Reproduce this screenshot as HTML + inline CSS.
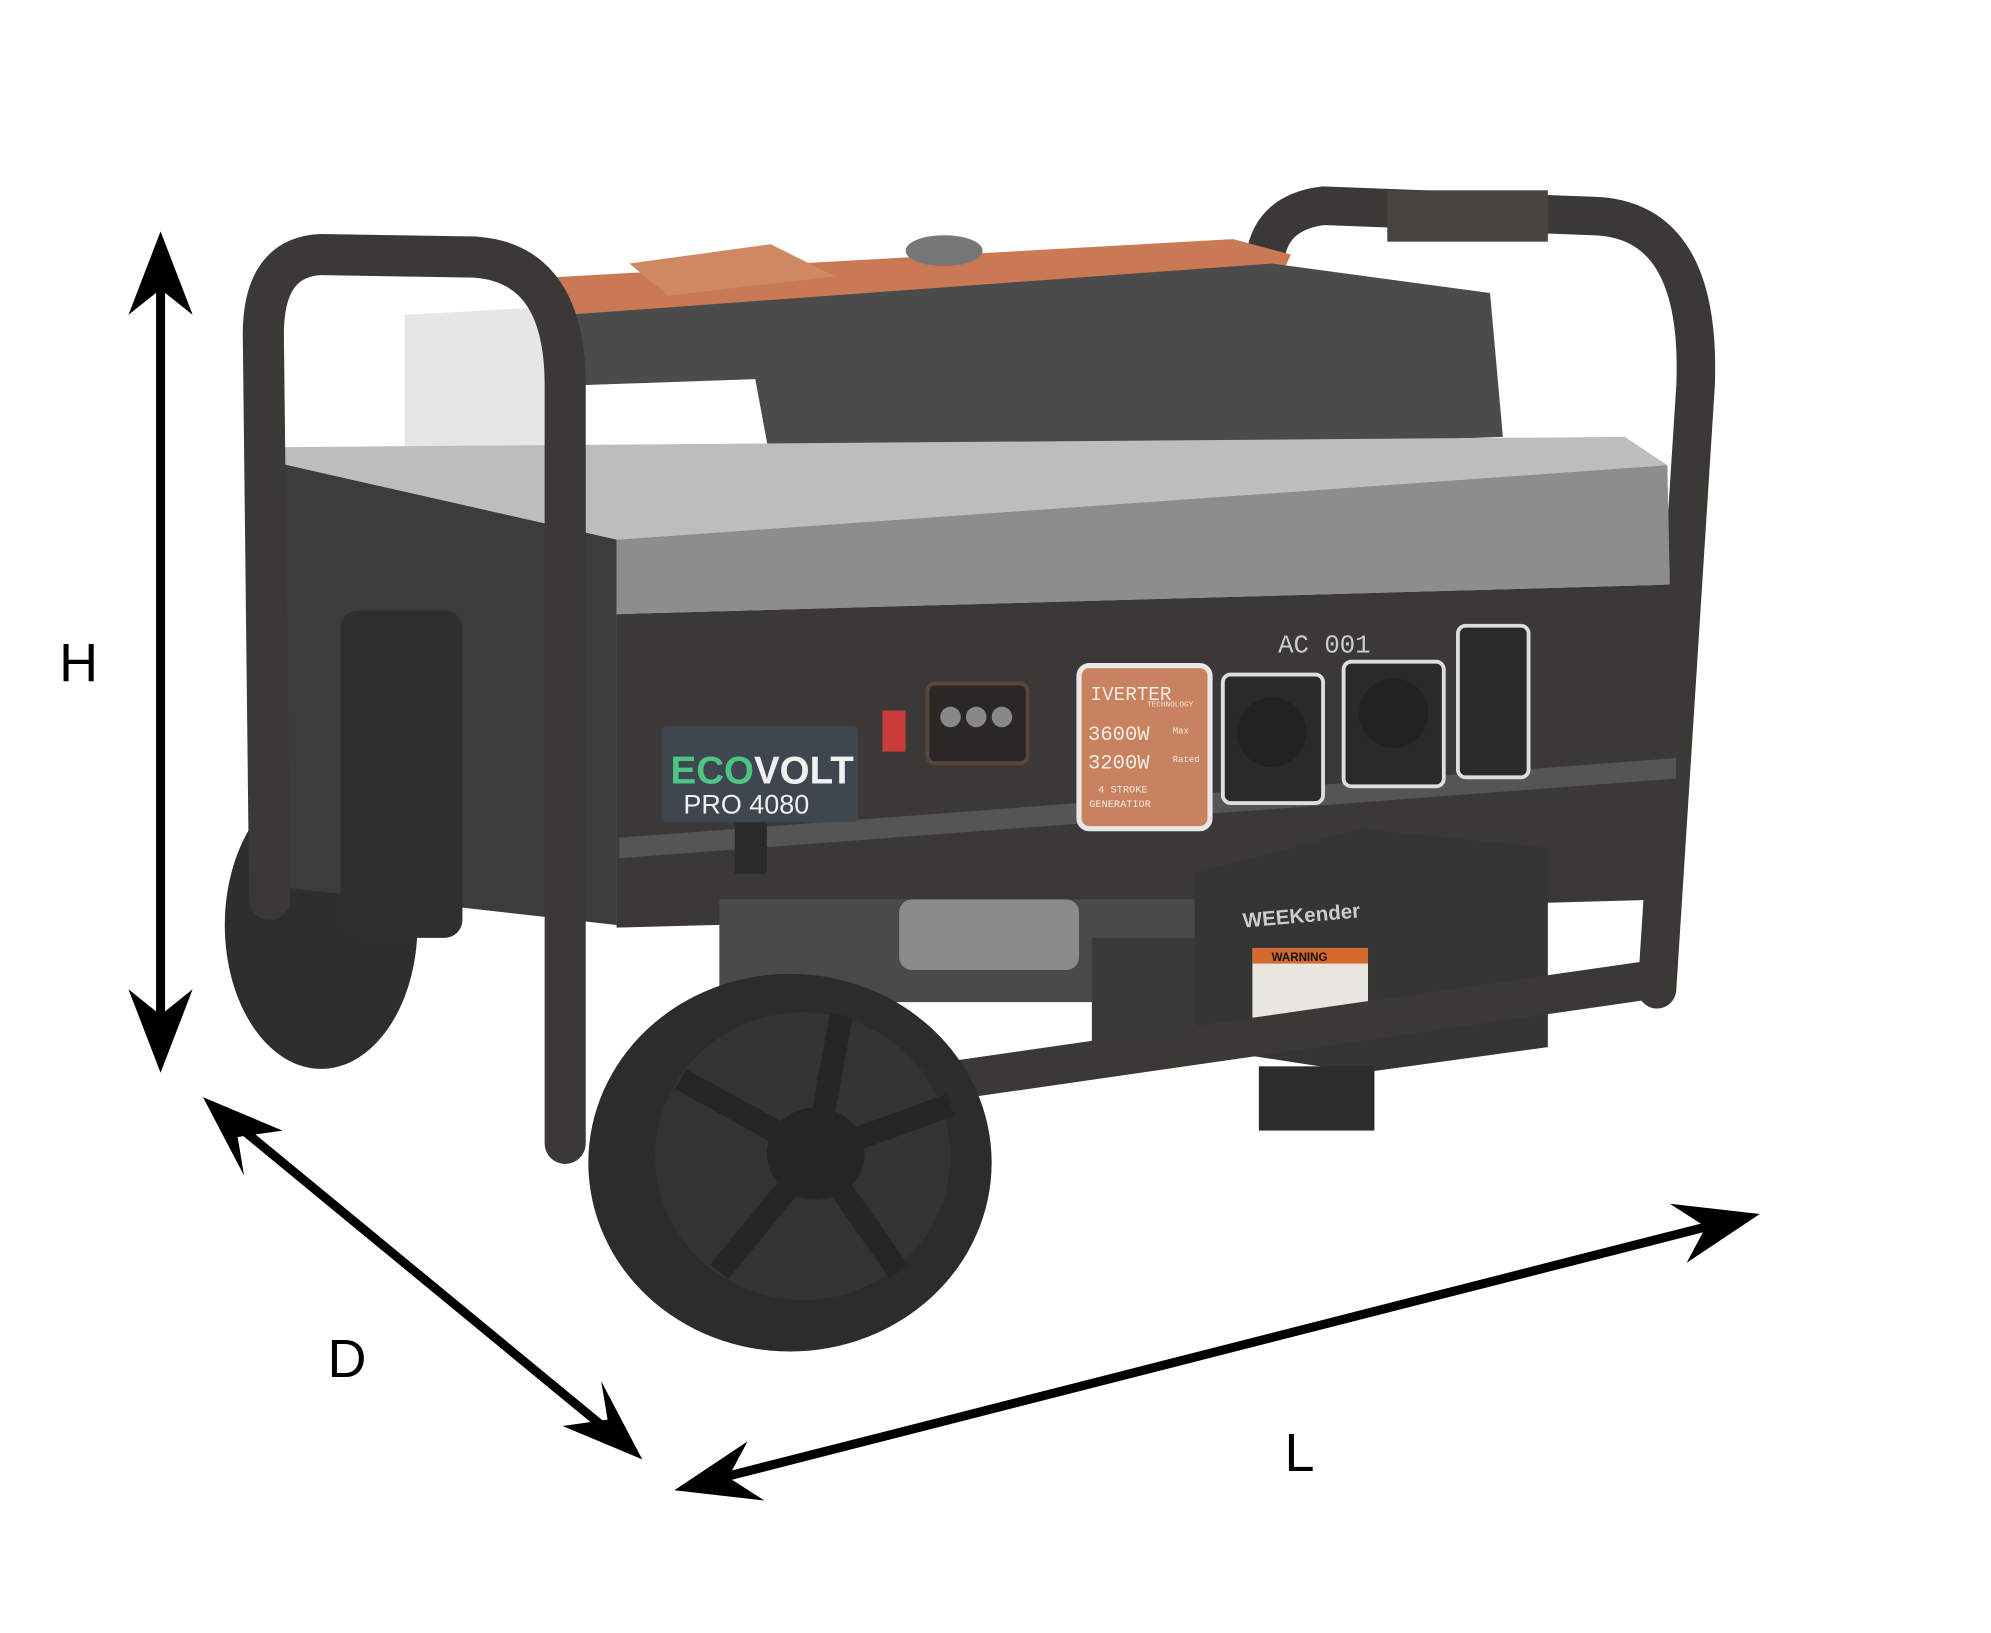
<!DOCTYPE html>
<html><head><meta charset="utf-8"><style>html,body{margin:0;padding:0;background:#fff}svg{display:block}</style></head>
<body>
<svg width="1991" height="1633" viewBox="0 0 1550 1271" xmlns="http://www.w3.org/2000/svg" font-family="Liberation Sans, sans-serif">
<rect width="1550" height="1271" fill="#fff"/>
<ellipse cx="250" cy="720" rx="75" ry="112" fill="#2e2e2e"/>
<path d="M1290 770 L1320 300 Q1325 170 1240 168 L1030 160 Q990 165 985 200 L980 330" fill="none" stroke="#3a3936" stroke-width="30" stroke-linecap="round"/>
<rect x="1080" y="148" width="125" height="40" fill="#4a4440"/>
<polygon points="315,245 440,238 445,350 315,350" fill="#e6e6e6"/>
<polygon points="390,218 960,186 1005,198 990,230 450,250" fill="#c97a55"/>
<polygon points="490,205 600,190 650,215 520,230" fill="#d08862"/>
<ellipse cx="735" cy="195" rx="30" ry="12" fill="#777"/>
<polygon points="440,245 990,205 1160,228 1170,340 600,360 588,295 445,300" fill="#4b4b4b"/>
<polygon points="215,348 1265,340 1298,362 480,420 215,362" fill="#bdbdbd"/>
<polygon points="215,360 480,420 480,720 215,690" fill="#3c3c3c"/>
<rect x="265" y="475" width="95" height="255" rx="14" fill="#2f2f2f"/>
<polygon points="480,420 1298,362 1300,455 480,478" fill="#8d8d8d"/>
<polygon points="480,478 1300,455 1302,700 480,722" fill="#3a3938"/>
<polygon points="482,652 1305,590 1305,606 482,668" fill="#555"/>
<rect x="515" y="565" width="153" height="75" rx="4" fill="#3e4650"/>
<text x="522" y="610" font-size="30" font-weight="bold" fill="#4cc483">ECO<tspan fill="#f0f0f0">VOLT</tspan></text>
<text x="532" y="633" font-size="21" fill="#f0f0f0">PRO 4080</text>
<rect x="687" y="553" width="18" height="32" fill="#c83c3c"/>
<rect x="722" y="532" width="78" height="62" rx="6" fill="#2a2826" stroke="#5a4636" stroke-width="3"/>
<circle cx="740" cy="558" r="8" fill="#888"/><circle cx="760" cy="558" r="8" fill="#888"/><circle cx="780" cy="558" r="8" fill="#888"/>
<rect x="572" y="640" width="25" height="40" fill="#2a2a2a"/>
<rect x="840" y="518" width="102" height="127" rx="8" fill="#c8825f" stroke="#e8e8e8" stroke-width="4"/>
<g font-family="Liberation Mono, monospace" fill="#f5ece5">
<text x="849" y="545" font-size="15">IVERTER</text>
<text x="893" y="550" font-size="6">TECHNOLOGY</text>
<text x="847" y="576" font-size="16">3600W</text><text x="913" y="571" font-size="7">Max</text>
<text x="847" y="598" font-size="16">3200W</text><text x="913" y="593" font-size="7">Rated</text>
<text x="855" y="617" font-size="8">4 STROKE</text>
<text x="848" y="628" font-size="8">GENERATIOR</text>
</g>
<rect x="952" y="525" width="78" height="100" rx="6" fill="#2a2a2a" stroke="#ddd" stroke-width="3"/>
<circle cx="990" cy="570" r="27" fill="#222"/>
<rect x="1046" y="515" width="78" height="97" rx="6" fill="#2a2a2a" stroke="#ddd" stroke-width="3"/>
<circle cx="1085" cy="555" r="27" fill="#222"/>
<rect x="1135" y="487" width="55" height="118" rx="6" fill="#2a2a2a" stroke="#ddd" stroke-width="3"/>
<text x="995" y="508" font-size="20" font-family="Liberation Mono, monospace" fill="#ccc">AC 001</text>
<rect x="560" y="700" width="400" height="80" fill="#4a4a4a"/>
<rect x="700" y="700" width="140" height="55" rx="10" fill="#8a8a8a"/>
<rect x="850" y="730" width="120" height="90" fill="#3a3a3a"/>
<polygon points="930,680 1060,645 1205,660 1205,815 1060,835 930,815" fill="#353535"/>
<text x="968" y="722" font-size="16" font-weight="bold" fill="#ccc" transform="rotate(-5 968 722)">WEEKender</text>
<rect x="975" y="738" width="90" height="55" fill="#e8e6e0"/>
<rect x="975" y="738" width="90" height="12" fill="#d46a2c"/>
<text x="990" y="748" font-size="9" font-weight="bold" fill="#111">WARNING</text>
<rect x="980" y="830" width="90" height="50" fill="#2c2c2c"/>
<path d="M470 880 L1290 762" fill="none" stroke="#3a3936" stroke-width="30"/>
<path d="M440 890 L440 300 Q440 205 370 200 L250 198 Q205 200 205 260 L210 700" fill="none" stroke="#3a3936" stroke-width="32" stroke-linecap="round"/>
<ellipse cx="615" cy="905" rx="157" ry="147" fill="#2c2c2c"/>
<ellipse cx="625" cy="900" rx="115" ry="112" fill="#333"/>
<ellipse cx="635" cy="898" rx="38" ry="36" fill="#252525"/>
<g stroke="#262626" stroke-width="18">
<line x1="635" y1="898" x2="655" y2="790"/><line x1="635" y1="898" x2="740" y2="860"/><line x1="635" y1="898" x2="700" y2="990"/><line x1="635" y1="898" x2="560" y2="990"/><line x1="635" y1="898" x2="530" y2="840"/>
</g>
<g stroke="#000" stroke-width="7" fill="none">
<line x1="125" y1="210" x2="125" y2="805"/>
<line x1="180" y1="872" x2="475" y2="1115"/>
<line x1="555" y1="1152" x2="1340" y2="952"/>
</g>
<g fill="#000">
<polygon points="125,180 100,245 125,225 150,245"/>
<polygon points="125,835 100,770 125,790 150,770"/>
<polygon points="158,854 190,915 185,885 220,880"/>
<polygon points="500,1136 468,1075 473,1105 438,1110"/>
<polygon points="525,1160 595,1168 567,1150 582,1122"/>
<polygon points="1370,945 1300,937 1328,955 1313,983"/>
</g>
<g font-size="42" fill="#000">
<text x="46" y="530">H</text>
<text x="255" y="1072">D</text>
<text x="1000" y="1145">L</text>
</g>
</svg>
</body></html>
